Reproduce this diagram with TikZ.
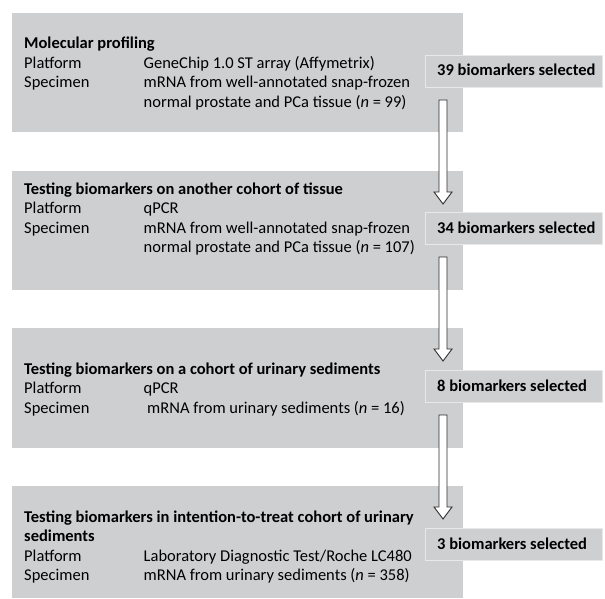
\documentclass[tikz,border=0pt]{standalone}
\usepackage{fontspec}
\setmainfont{Carlito}
\usetikzlibrary{calc}
\definecolor{boxgray}{RGB}{206,207,209}
\definecolor{lblborder}{RGB}{232,232,233}
\definecolor{arrline}{RGB}{45,45,45}
\begin{document}
\begin{tikzpicture}[x=1pt,y=-1pt,
  bigbox/.style={fill=boxgray, draw=none, anchor=north west, inner sep=0pt, minimum width=450.5pt},
  lblbox/.style={fill=boxgray, draw=lblborder, line width=1pt, anchor=north west, inner sep=0pt, minimum width=177pt, minimum height=32pt},
  txt/.style={anchor=base west, inner sep=0pt, font=\fontsize{16.5}{19.5}\selectfont},
  ttl/.style={anchor=base west, inner sep=0pt, font=\fontsize{16.5}{19.5}\selectfont\bfseries},
  flowarrow/.style={fill=white, draw=arrline, line width=0.9pt, line join=miter}
]
\useasboundingbox (0,0) rectangle (605,599);

% main boxes
\node[bigbox, minimum height=119pt] (b1) at (12,13) {};
\node[bigbox, minimum height=119pt] (b2) at (12,171) {};
\node[bigbox, minimum height=120pt] (b3) at (12,328) {};
\node[bigbox, minimum height=112pt] (b4) at (12,486) {};

% box 1
\node[ttl] (t1) at (24,49) {Molecular profiling};
\node[txt] (p1) at (24,68.5) {Platform};
\node[txt] (p1v) at (143.5,68.5) {GeneChip 1.0 ST array (Affymetrix)};
\node[txt] (s1) at (24,88) {Specimen};
\node[txt] (s1v) at (143.5,88) {mRNA from well-annotated snap-frozen};
\node[txt] (s1w) at (143.5,107.5) {normal prostate and PCa tissue (\textit{n} = 99)};

% box 2
\node[ttl] (t2) at (24,194) {Testing biomarkers on another cohort of tissue};
\node[txt] (p2) at (24,213.5) {Platform};
\node[txt] (p2v) at (143.5,213.5) {qPCR};
\node[txt] (s2) at (24,233) {Specimen};
\node[txt] (s2v) at (143.5,233) {mRNA from well-annotated snap-frozen};
\node[txt] (s2w) at (143.5,252.5) {normal prostate and PCa tissue (\textit{n} = 107)};

% box 3
\node[ttl] (t3) at (24,374) {Testing biomarkers on a cohort of urinary sediments};
\node[txt] (p3) at (24,393.5) {Platform};
\node[txt] (p3v) at (143.5,393.5) {qPCR};
\node[txt] (s3) at (24,413) {Specimen};
\node[txt] (s3v) at (147,413) {mRNA from urinary sediments (\textit{n} = 16)};

% box 4
\node[ttl] (t4) at (24,522) {Testing biomarkers in intention-to-treat cohort of urinary};
\node[ttl] (t4b) at (24,541.5) {sediments};
\node[txt] (p4) at (24,561) {Platform};
\node[txt] (p4v) at (143.5,561) {Laboratory Diagnostic Test/Roche LC480};
\node[txt] (s4) at (24,580.5) {Specimen};
\node[txt] (s4v) at (143.5,580.5) {mRNA from urinary sediments (\textit{n} = 358)};

% label boxes
\node[lblbox] (l1) at (425,55) {};
\node[lblbox] (l2) at (425,212) {};
\node[lblbox] (l3) at (425,370) {};
\node[lblbox] (l4) at (425,528) {};
\node[ttl] (l1t) at (437,76) {39 biomarkers selected};
\node[ttl] (l2t) at (437,233) {34 biomarkers selected};
\node[ttl] (l3t) at (437,391) {8 biomarkers selected};
\node[ttl] (l4t) at (437,549) {3 biomarkers selected};

% arrows
\coordinate (a1s) at (443,100); \coordinate (a1e) at (443,204);
\coordinate (a2s) at (443,257); \coordinate (a2e) at (443,361);
\coordinate (a3s) at (443,415); \coordinate (a3e) at (443,519);
\foreach \s/\e in {a1s/a1e, a2s/a2e, a3s/a3e}{
  \draw[flowarrow] ($(\s)+(-4,0)$) -- ($(\s)+(4,0)$) -- ($(\e)+(4,-12)$) -- ($(\e)+(9,-12)$) -- (\e)
    -- ($(\e)+(-9,-12)$) -- ($(\e)+(-4,-12)$) -- cycle;
}
\end{tikzpicture}
\end{document}
